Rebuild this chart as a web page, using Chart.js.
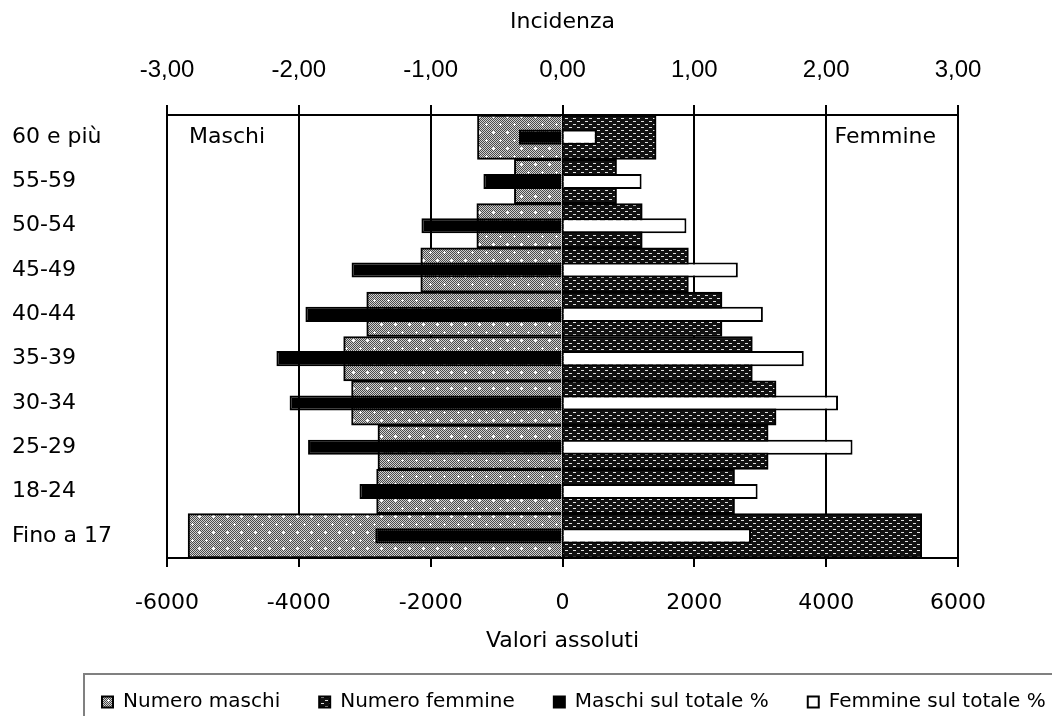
<!DOCTYPE html>
<html>
<head>
<meta charset="utf-8">
<script src="https://cdn.jsdelivr.net/npm/chart.js@4"></script>
<style>
  html, body { margin: 0; padding: 0; background: #fff; }
  #wrap { width: 1052px; height: 716px; }
</style>
</head>
<body>
<div id="wrap"><canvas id="pyramid" width="1052" height="716"></canvas></div>
<script>
const categories = ['60 e più', '55-59', '50-54', '45-49', '40-44', '35-39', '30-34', '25-29', '18-24', 'Fino a 17']
const maleCount = [-1290, -730, -1300, -2150, -2970, -3320, -3200, -2800, -2820, -5680]
const femaleCount = [1420, 820, 1210, 1910, 2420, 2880, 3240, 3120, 2610, 5450]
const malePct = [-0.33, -0.60, -1.07, -1.60, -1.95, -2.17, -2.07, -1.93, -1.54, -1.42]
const femalePct = [0.26, 0.60, 0.94, 1.33, 1.52, 1.83, 2.09, 2.20, 1.48, 1.43]
const countTicks = [-6000, -4000, -2000, 0, 2000, 4000, 6000]
const pctTicks = [-3, -2, -1, 0, 1, 2, 3]

// hatch fills like the old spreadsheet patterns
const makePattern = (w, h, draw) => {
    const c = document.createElement('canvas')
    c.width = w
    c.height = h
    const g = c.getContext('2d')
    draw(g)
    return g.createPattern(c, 'repeat')
}

const ctx = document.getElementById('pyramid').getContext('2d')

const malePattern = makePattern(14, 16, g => {
    for (let y = 0; y < 16; y++) {
        for (let x = 0; x < 14; x++) {
            g.fillStyle = (x + y) % 2 === 0 ? '#4a4a4a' : '#d0d0d0'
            g.fillRect(x, y, 1, 1)
        }
    }
    g.fillStyle = '#fff'
    const plus = (px, py) => {
        g.fillRect(px - 1, py, 3, 1)
        g.fillRect(px, py - 1, 1, 3)
    }
    plus(3, 4)
    plus(10, 12)
})

const femalePattern = makePattern(8, 6, g => {
    g.fillStyle = '#111'
    g.fillRect(0, 0, 8, 6)
    g.fillStyle = '#e0e0e0'
    g.fillRect(1, 1, 3, 1)
    g.fillRect(5, 4, 3, 1)
})

const sideLabels = {
    id: 'sideLabels',
    afterInit(chart) {
        // keep the legend strip short, whatever its item padding
        const lg = chart.legend
        const baseFit = lg.fit.bind(lg)
        lg.fit = () => {
            baseFit()
            lg.height = 58
        }
    },
    afterLayout(chart) {
        // legend row sits a bit lower and further right, as in the original
        const lg = chart.legend
        lg.left = 63
        lg.right = 1100
        lg.top = 653
        lg.bottom = 716
    },
    afterDraw(chart) {
        const { ctx, chartArea } = chart
        ctx.save()
        ctx.font = '22px "DejaVu Sans"'
        ctx.fillStyle = '#000'
        ctx.textBaseline = 'middle'
        ctx.textAlign = 'left'
        ctx.fillText('Maschi', chartArea.left + 22, 137)
        ctx.textAlign = 'right'
        ctx.fillText('Femmine', chartArea.right - 22, 137)
        // frame round the legend
        ctx.strokeStyle = '#808080'
        ctx.lineWidth = 2
        ctx.beginPath()
        ctx.moveTo(1052, 674)
        ctx.lineTo(84, 674)
        ctx.lineTo(84, 716)
        ctx.stroke()
        ctx.restore()
    }
}

Chart.defaults.font.family = '"DejaVu Sans"'
Chart.defaults.font.size = 22
Chart.defaults.color = '#000'

new Chart(ctx, {
    type: 'bar',
    data: {
        labels: categories,
        datasets: [{
            label: 'Numero maschi',
            data: maleCount,
            xAxisID: 'x',
            backgroundColor: malePattern,
            borderColor: '#000',
            borderWidth: 2,
            grouped: false,
            barPercentage: 1,
            categoryPercentage: 1,
            order: 1
        }, {
            label: 'Numero femmine',
            data: femaleCount,
            xAxisID: 'x',
            backgroundColor: femalePattern,
            borderColor: '#000',
            borderWidth: 2,
            grouped: false,
            barPercentage: 1,
            categoryPercentage: 1,
            order: 1
        }, {
            label: 'Maschi sul totale %',
            data: malePct,
            xAxisID: 'x2',
            backgroundColor: '#000',
            borderColor: '#000',
            borderWidth: 2,
            grouped: false,
            barPercentage: 0.34,
            categoryPercentage: 1,
            order: 0
        }, {
            label: 'Femmine sul totale %',
            data: femalePct,
            xAxisID: 'x2',
            backgroundColor: '#fff',
            borderColor: '#000',
            borderWidth: 2,
            grouped: false,
            barPercentage: 0.34,
            categoryPercentage: 1,
            order: 0
        }]
    },
    options: {
        indexAxis: 'y',
        responsive: false,
        animation: false,
        layout: { padding: { left: 12, right: 0, top: 0, bottom: 0 } },
        scales: {
            x: {
                position: 'bottom',
                min: countTicks[0],
                max: countTicks[countTicks.length - 1],
                afterBuildTicks: s => { s.ticks = countTicks.map(v => ({ value: v })) },
                ticks: { padding: 23, callback: v => String(v) },
                grid: { color: '#000', lineWidth: 2, tickLength: 9 },
                border: { display: true, color: '#000', width: 2 },
                title: { display: true, text: 'Valori assoluti', padding: { bottom: 4, top: 0 } },
                afterFit: s => { s.height = 100 }
            },
            x2: {
                axis: 'x',
                position: 'top',
                min: pctTicks[0],
                max: pctTicks[pctTicks.length - 1],
                afterBuildTicks: s => { s.ticks = pctTicks.map(v => ({ value: v })) },
                ticks: {
                    padding: 20,
                    font: { family: '"Liberation Sans"', size: 24 },
                    callback: v => v.toFixed(2).replace('.', ',')
                },
                grid: { drawOnChartArea: false, color: '#000', lineWidth: 2, tickLength: 10 },
                border: { display: true, color: '#000', width: 2 },
                title: { display: true, text: 'Incidenza', padding: { top: 9, bottom: 0 } },
                afterFit: s => { s.height = 115 }
            },
            y: {
                position: 'left',
                ticks: { crossAlign: 'far', padding: 0 },
                grid: { display: false, drawTicks: false },
                border: { display: true, color: '#000', width: 2 },
                afterFit: s => { s.width = 155 }
            },
            y2: {
                axis: 'y',
                type: 'category',
                position: 'right',
                ticks: { display: false },
                grid: { display: false, drawTicks: false },
                border: { display: false },
                afterFit: s => { s.width = 94 }
            }
        },
        plugins: {
            legend: {
                position: 'bottom',
                align: 'start',
                labels: {
                    boxWidth: 11,
                    boxHeight: 11,
                    padding: 39,
                    font: { size: 20 },
                    sort: (a, b) => a.datasetIndex - b.datasetIndex
                }
            },
            tooltip: { enabled: false }
        }
    },
    plugins: [sideLabels]
})
</script>
</body>
</html>
